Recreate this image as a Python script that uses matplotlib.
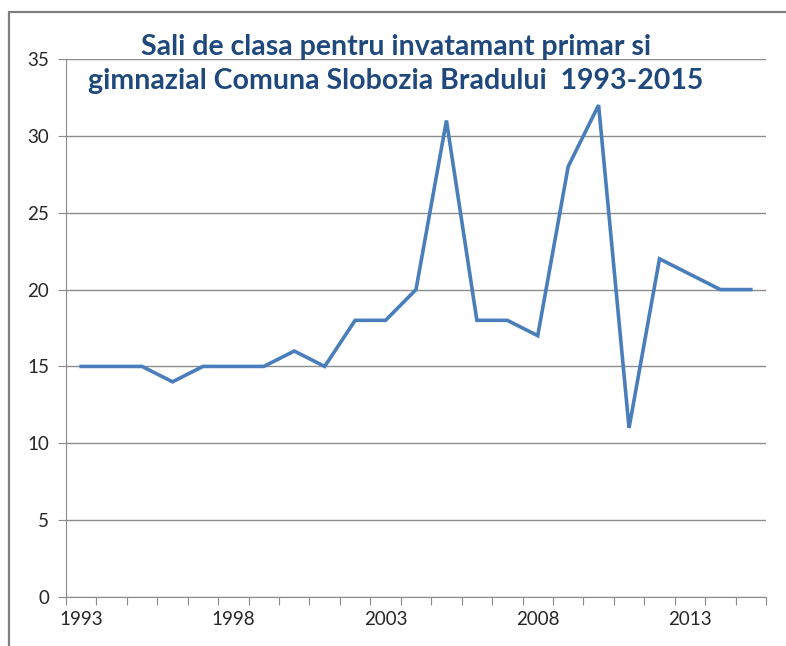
import matplotlib.pyplot as plt
from matplotlib.patches import Rectangle

# date: sali de clasa pe ani
ani = list(range(1993, 2016))
sali = [15, 15, 15, 14, 15, 15, 15, 16, 15, 18, 18, 20, 31, 18, 18, 17, 28, 32, 11, 22, 21, 20, 20]
etichete_y = [0, 5, 10, 15, 20, 25, 30, 35]

titlu = "Sali de clasa pentru invatamant primar si\ngimnazial Comuna Slobozia Bradului  1993-2015"

fig = plt.figure(figsize=(7.86, 6.46), dpi=100)
ax = fig.add_axes([66/786, 1 - 597/646, 700/786, 538/646])

# chenarul graficului (margine gri)
fig.patches.append(Rectangle((9/786, -0.1), 1.2, 1 - 12/646 + 0.1, transform=fig.transFigure,
                             fill=False, edgecolor='#808080', linewidth=1.6))

# pozitii categorii (ca in Excel)
x = [i + 0.5 for i in range(len(ani))]
ax.plot(x, sali, color='#4A7EBB', linewidth=2.6, solid_joinstyle='miter')

ax.set_xlim(0, len(ani))
ax.set_ylim(0, 35)
ax.set_yticks(etichete_y)
ax.yaxis.grid(True, color='#8C8C8C', linewidth=1)
ax.set_axisbelow(True)

ax.set_xticks(range(len(ani) + 1))
ax.set_xticklabels([])
ax.set_xticks([x[i] for i in range(0, len(ani), 5)], minor=True)
ax.set_xticklabels([str(ani[i]) for i in range(0, len(ani), 5)], minor=True)
ax.tick_params(axis='x', which='major', length=6, color='#8C8C8C')
ax.tick_params(axis='x', which='minor', length=0, pad=10)
ax.tick_params(axis='y', length=6, color='#8C8C8C', pad=6)

for lbl in ax.get_xticklabels(minor=True) + ax.get_yticklabels():
    lbl.set_fontfamily('Lato')
    lbl.set_fontsize(13.5)
    lbl.set_color('#262626')

for s in ['top', 'right']:
    ax.spines[s].set_visible(False)
ax.spines['left'].set_color('#8C8C8C')
ax.spines['bottom'].set_color('#8C8C8C')

fig.text(396/786, 1 - 64/646, titlu, ha='center', va='center', fontsize=20.5,
         fontweight='bold', family='Lato', color='#1F497D', linespacing=1.35)

fig.savefig('out.png', dpi=100)
